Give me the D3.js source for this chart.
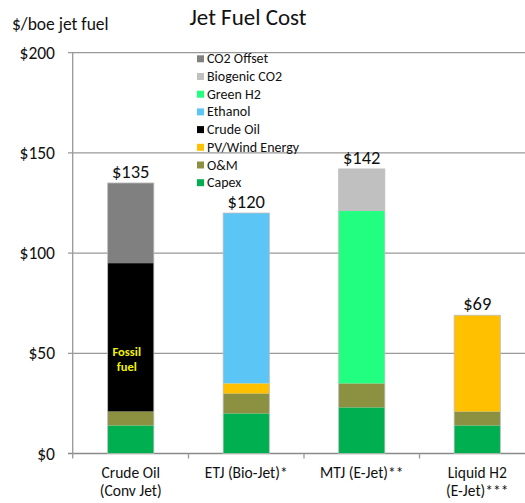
<!DOCTYPE html>
<html>
<head>
<meta charset="utf-8">
<script src="https://cdn.jsdelivr.net/npm/d3@7"></script>
<style>
  body { margin: 0; background: #fff; }
  svg text { font-family: Carlito, Lato, "Open Sans", sans-serif; fill: #111; }
</style>
</head>
<body>
<div id="chart"></div>
<script>
// values, $/boe
var categories = ["Crude Oil|(Conv Jet)", "ETJ (Bio-Jet)*", "MTJ (E-Jet)**", "Liquid H2|(E-Jet)***"];
var capex    = [14, 20, 23, 14];
var om       = [7, 10, 12, 7];
var pvWind   = [0, 5, 0, 48];
var crude    = [74, 0, 0, 0];
var ethanol  = [0, 85, 0, 0];
var greenH2  = [0, 0, 86, 0];
var biogenic = [0, 0, 21, 0];
var co2Off   = [40, 0, 0, 0];
var totals   = ["$135", "$120", "$142", "$69"];
var yTicks   = [0, 50, 100, 150, 200];

var keys = ["Capex", "O&M", "PV/Wind Energy", "Crude Oil", "Ethanol", "Green H2", "Biogenic CO2", "CO2 Offset"];
var colors = {
    "Capex": "#00b050",
    "O&M": "#8c9142",
    "PV/Wind Energy": "#ffc000",
    "Crude Oil": "#000000",
    "Ethanol": "#5bc6f6",
    "Green H2": "#22ff80",
    "Biogenic CO2": "#c0c0c0",
    "CO2 Offset": "#808080"
};

var rows = categories.map(function(c, i) {
    return {
        cat: c,
        "Capex": capex[i], "O&M": om[i], "PV/Wind Energy": pvWind[i], "Crude Oil": crude[i],
        "Ethanol": ethanol[i], "Green H2": greenH2[i], "Biogenic CO2": biogenic[i], "CO2 Offset": co2Off[i]
    };
});

var w = 525, h = 503;
var svg = d3.select("#chart").append("svg").attr("width", w).attr("height", h);

var x = d3.scaleBand().domain(categories).range([73, 535]).padding(0);
var y = d3.scaleLinear().domain([0, 200]).range([453.5, 52.7]);
var barW = x.bandwidth() * 0.4;

// gridlines
svg.append("g").selectAll("line")
    .data(yTicks)
    .enter().append("line")
    .attr("x1", 68).attr("x2", w)
    .attr("y1", function(d) { return y(d); })
    .attr("y2", function(d) { return y(d); })
    .style("stroke", function(d) { return d == 0 ? "#8a8a8a" : "#999"; })
    .style("stroke-width", 1.3);

// left axis line
svg.append("line")
    .attr("x1", 72.7).attr("x2", 72.7)
    .attr("y1", y(200)).attr("y2", y(0) + 5)
    .style("stroke", "#999").style("stroke-width", 1.3);

// category ticks
svg.append("g").selectAll("line")
    .data(categories.slice(1))
    .enter().append("line")
    .attr("x1", function(d) { return x(d); })
    .attr("x2", function(d) { return x(d); })
    .attr("y1", y(0)).attr("y2", y(0) + 5)
    .style("stroke", "#999").style("stroke-width", 1.3);

// y tick labels
svg.append("g").selectAll("text")
    .data(yTicks)
    .enter().append("text")
    .attr("x", 55)
    .attr("y", function(d) { return y(d) + 6; })
    .attr("text-anchor", "end")
    .style("font-size", "17.5px")
    .text(function(d) { return "$" + d; });

// stacked bars
var stack = d3.stack().keys(keys);
var series = stack(rows);

svg.append("g").selectAll("g")
    .data(series)
    .enter().append("g")
    .style("fill", function(d) { return colors[d.key]; })
    .selectAll("rect")
    .data(function(d) { return d; })
    .enter().append("rect")
    .filter(function(d) { return d[1] - d[0] > 0; })
    .attr("x", function(d) { return x(d.data.cat) + (x.bandwidth() - barW) / 2; })
    .attr("y", function(d) { return y(d[1]); })
    .attr("width", barW)
    .attr("height", function(d) { return y(d[0]) - y(d[1]); });

// thin outline around each bar
svg.append("g").selectAll("rect")
    .data(rows)
    .enter().append("rect")
    .attr("x", function(d) { return x(d.cat) + (x.bandwidth() - barW) / 2; })
    .attr("y", function(d, i) { return y(series[series.length - 1][i][1]); })
    .attr("width", barW)
    .attr("height", function(d, i) { return y(0) - y(series[series.length - 1][i][1]); })
    .style("fill", "none")
    .style("stroke", "#bdbdbd")
    .style("stroke-width", 0.8);

// total labels
svg.append("g").selectAll("text")
    .data(rows)
    .enter().append("text")
    .attr("x", function(d) { return x(d.cat) + x.bandwidth() / 2; })
    .attr("y", function(d, i) { return y(series[series.length - 1][i][1]) - 5; })
    .attr("text-anchor", "middle")
    .style("font-size", "18.5px")
    .text(function(d, i) { return totals[i]; });

// "Fossil fuel" note inside the crude bar
var fx = x(categories[0]) + x.bandwidth() / 2 - 4;
var fossil = svg.append("text")
    .attr("x", fx)
    .attr("y", y(50) + 3)
    .attr("text-anchor", "middle")
    .style("font-size", "12.5px")
    .style("font-weight", "bold")
    .style("fill", "#f2f200");
fossil.append("tspan").attr("x", fx).text("Fossil");
fossil.append("tspan").attr("x", fx).attr("dy", 15).text("fuel");

// category labels
svg.append("g").selectAll("text")
    .data(categories)
    .enter().append("text")
    .attr("text-anchor", "middle")
    .style("font-size", "15.5px")
    .each(function(d) {
        var t = d3.select(this);
        d.split("|").forEach(function(line, j) {
            t.append("tspan")
                .attr("x", x(d) + x.bandwidth() / 2)
                .attr("y", 478 + j * 17.5)
                .text(line);
        });
    });

// legend
var legendKeys = keys.slice().reverse();
var lg = svg.append("g").selectAll("g")
    .data(legendKeys)
    .enter().append("g")
    .attr("transform", function(d, i) { return "translate(197," + (58.3 + i * 17.7) + ")"; });
lg.append("rect")
    .attr("x", 0).attr("y", -3)
    .attr("width", 7).attr("height", 7)
    .style("fill", function(d) { return colors[d]; });
lg.append("text")
    .attr("x", 10).attr("y", 5)
    .style("font-size", "14px")
    .text(function(d) { return d; });

// titles
svg.append("text")
    .attr("x", 248).attr("y", 25)
    .attr("text-anchor", "middle")
    .style("font-size", "23px")
    .text("Jet Fuel Cost");

svg.append("text")
    .attr("x", 12).attr("y", 30)
    .style("font-size", "17.5px")
    .text("$/boe jet fuel");
</script>
</body>
</html>
